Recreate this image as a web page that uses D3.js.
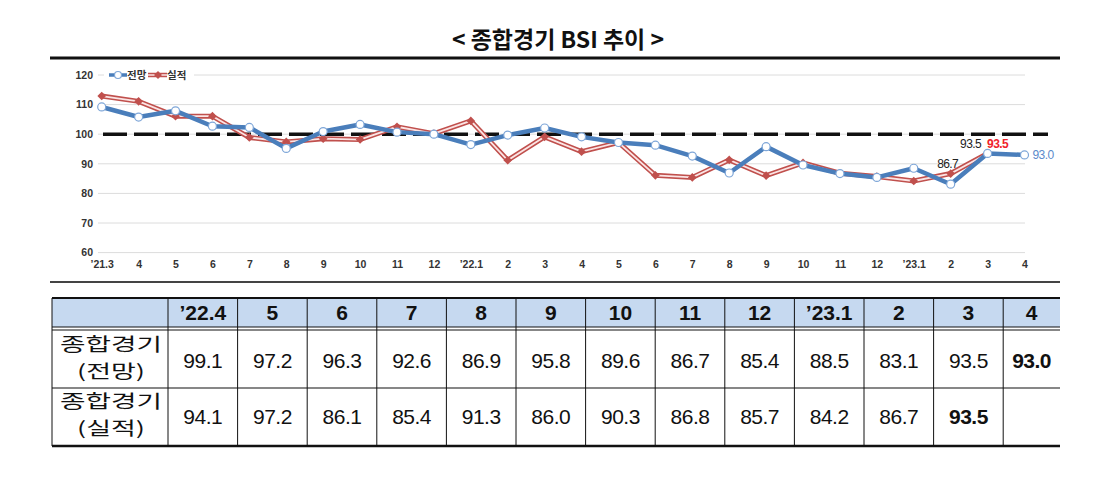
<!DOCTYPE html>
<html>
<head>
<meta charset="utf-8">
<script src="https://cdn.jsdelivr.net/npm/d3@7"></script>
<style>
  body { margin: 0; background: #fff; }
  svg { display: block; }
</style>
</head>
<body>
<div id="chart"></div>
<script>

// --> DATA

var labels = ["\u201921.3", "4", "5", "6", "7", "8", "9", "10", "11", "12",
              "\u201922.1", "2", "3", "4", "5", "6", "7", "8", "9", "10", "11", "12",
              "\u201923.1", "2", "3", "4"];

// 전망 (forecast), '21.3 ~ '23.4
var forecast = [109.2, 105.8, 107.9, 102.7, 102.3, 95.2, 100.9, 103.3, 100.7, 100.0,
                96.5, 99.7, 102.1, 99.1, 97.2, 96.3, 92.6, 86.9, 95.8, 89.6, 86.7, 85.4,
                88.5, 83.1, 93.5, 93.0];

// 실적 (actual), '21.3 ~ '23.3
var actual = [112.9, 111.1, 106.1, 106.1, 98.9, 97.4, 98.5, 98.2, 102.5, 100.2,
              104.5, 91.2, 99.1, 94.1, 97.2, 86.1, 85.4, 91.3, 86.0, 90.3, 86.8, 85.7,
              84.2, 86.7, 93.5];

var yTicks = [60, 70, 80, 90, 100, 110, 120];

var tableCols = ["\u201922.4", "5", "6", "7", "8", "9", "10", "11", "12", "\u201923.1", "2", "3", "4"];
var tableForecast = forecast.slice(13);
var tableActual = actual.slice(13);
var rowLabels = [["종합경기", "(전망)"], ["종합경기", "(실적)"]];

// --> SVG

var width = 1107,
    height = 497;

var blue = "#4a7ebb",
    red = "#c0504d";

var svg = d3.select("#chart").append("svg")
    .attr("width", width)
    .attr("height", height);

// title + rules
svg.append("text")
    .attr("x", 558)
    .attr("y", 48)
    .attr("text-anchor", "middle")
    .style("font-family", "'Noto Sans CJK KR', sans-serif")
    .style("font-weight", "bold")
    .style("font-size", "23px")
    .style("fill", "#111")
    .text("< 종합경기 BSI 추이 >");

svg.append("line")
    .attr("x1", 50).attr("x2", 1060)
    .attr("y1", 58).attr("y2", 58)
    .style("stroke", "#111")
    .style("stroke-width", 3);

svg.append("line")
    .attr("x1", 50).attr("x2", 1060)
    .attr("y1", 282).attr("y2", 282)
    .style("stroke", "#444")
    .style("stroke-width", 2);

// --> SCALES

var x = d3.scalePoint()
    .domain(d3.range(labels.length))
    .range([101.7, 1024.5]);

var y = d3.scaleLinear()
    .domain([60, 120])
    .range([252.6, 75]);

// gridlines
svg.append("g").selectAll("line")
    .data(yTicks)
    .enter().append("line")
    .attr("x1", 98).attr("x2", 1025)
    .attr("y1", function (d) { return y(d); })
    .attr("y2", function (d) { return y(d); })
    .style("stroke", "#dcdcdc")
    .style("stroke-width", 1);

// axes
var yAxis = svg.append("g")
    .attr("transform", "translate(96,0)")
    .call(d3.axisLeft(y).tickValues(yTicks).tickSize(0).tickPadding(3));

var xAxis = svg.append("g")
    .attr("transform", "translate(0," + y(60) + ")")
    .call(d3.axisBottom(x).tickSize(0).tickPadding(8)
        .tickFormat(function (i) { return labels[i]; }));

[yAxis, xAxis].forEach(function (g) {
    g.select(".domain").remove();
    g.selectAll("text")
        .style("font-family", "'Liberation Sans', Arial, sans-serif")
        .style("font-weight", "bold")
        .style("font-size", "10.5px")
        .style("fill", "#333");
});

// 100 baseline
svg.append("line")
    .attr("x1", 103).attr("x2", 1048)
    .attr("y1", y(100)).attr("y2", y(100))
    .style("stroke", "#111")
    .style("stroke-width", 3.5)
    .style("stroke-dasharray", "24,7");

// --> LINES

var line = d3.line()
    .x(function (d, i) { return x(i); })
    .y(function (d) { return y(d); });

svg.append("path")
    .datum(actual)
    .attr("d", line)
    .style("fill", "none")
    .style("stroke", red)
    .style("stroke-width", 5);

svg.append("path")
    .datum(actual)
    .attr("d", line)
    .style("fill", "none")
    .style("stroke", "#fbe4e4")
    .style("stroke-width", 1.8);

svg.append("g").selectAll("path")
    .data(actual)
    .enter().append("path")
    .attr("d", d3.symbol().type(d3.symbolDiamond2).size(48))
    .attr("transform", function (d, i) { return "translate(" + x(i) + "," + y(d) + ")"; })
    .style("fill", red);

svg.append("path")
    .datum(forecast)
    .attr("d", line)
    .style("fill", "none")
    .style("stroke", blue)
    .style("stroke-width", 4.5)
    .style("stroke-linejoin", "round");

svg.append("g").selectAll("circle")
    .data(forecast)
    .enter().append("circle")
    .attr("cx", function (d, i) { return x(i); })
    .attr("cy", function (d) { return y(d); })
    .attr("r", 4)
    .style("fill", "#fff")
    .style("stroke", "#7ea6d8")
    .style("stroke-width", 1.2);

// data labels
var nA = actual.length - 1,
    nF = forecast.length - 1;

var labelFont = function (sel, color) {
    sel.style("font-family", "'Liberation Sans', Arial, sans-serif")
        .style("font-size", "12px")
        .style("letter-spacing", "-0.6px")
        .style("fill", color);
};

svg.append("text")
    .attr("x", x(nA - 1) - 3)
    .attr("y", y(actual[nA - 1]) - 6)
    .attr("text-anchor", "middle")
    .call(labelFont, "#222")
    .text(actual[nA - 1].toFixed(1));

svg.append("text")
    .attr("x", x(nA) - 17)
    .attr("y", y(forecast[nA]) - 5)
    .attr("text-anchor", "middle")
    .call(labelFont, "#222")
    .text(forecast[nA].toFixed(1));

svg.append("text")
    .attr("x", x(nA) + 10)
    .attr("y", y(actual[nA]) - 5)
    .attr("text-anchor", "middle")
    .call(labelFont, "#f0222a")
    .style("font-weight", "bold")
    .text(actual[nA].toFixed(1));

svg.append("text")
    .attr("x", x(nF) + 8)
    .attr("y", y(forecast[nF]) + 4)
    .call(labelFont, "#5b8acb")
    .text(forecast[nF].toFixed(1));

// legend
var legend = svg.append("g");

legend.append("rect")
    .attr("x", 104).attr("y", 66)
    .attr("width", 90).attr("height", 16)
    .style("fill", "#fff");

legend.append("line")
    .attr("x1", 109).attr("x2", 127)
    .attr("y1", y(120)).attr("y2", y(120))
    .style("stroke", blue).style("stroke-width", 3.5);

legend.append("circle")
    .attr("cx", 118).attr("cy", y(120)).attr("r", 3.5)
    .style("fill", "#fff").style("stroke", "#7ea6d8").style("stroke-width", 1.2);

legend.append("line")
    .attr("x1", 148).attr("x2", 167)
    .attr("y1", y(120)).attr("y2", y(120))
    .style("stroke", red).style("stroke-width", 4.5);

legend.append("line")
    .attr("x1", 148).attr("x2", 167)
    .attr("y1", y(120)).attr("y2", y(120))
    .style("stroke", "#fbe4e4").style("stroke-width", 1.5);

legend.append("path")
    .attr("d", d3.symbol().type(d3.symbolDiamond2).size(40))
    .attr("transform", "translate(158," + y(120) + ")")
    .style("fill", red);

legend.selectAll("text.lg")
    .data([["전망", 127], ["실적", 167]])
    .enter().append("text")
    .attr("x", function (d) { return d[1]; })
    .attr("y", y(120) + 4)
    .style("font-family", "'Noto Sans CJK KR', sans-serif")
    .style("font-weight", "bold")
    .style("font-size", "10.5px")
    .style("fill", "#333")
    .text(function (d) { return d[0]; });

// --> TABLE

var tLeft = 52,
    tFirst = 168,
    tRight = 1060,
    colW = 69.6,
    tTop = 298,
    hBottom = 327,
    r1Top = 330,
    r2Top = 388,
    tBottom = 446;

var colEdges = [tFirst];
tableCols.forEach(function (c, i) {
    colEdges.push(i < tableCols.length - 1 ? tFirst + colW * (i + 1) : tRight);
});

var colMid = function (i) { return (colEdges[i] + colEdges[i + 1]) / 2; };

var table = svg.append("g");

table.append("rect")
    .attr("x", tLeft).attr("y", tTop)
    .attr("width", tRight - tLeft).attr("height", hBottom - tTop)
    .style("fill", "#c6d9f0");

// horizontal rules
[[tTop, 2], [hBottom, 1.2], [r1Top, 1.2], [r2Top, 1.2], [tBottom, 2.6]].forEach(function (h) {
    table.append("line")
        .attr("x1", tLeft).attr("x2", tRight)
        .attr("y1", h[0]).attr("y2", h[0])
        .style("stroke", "#111")
        .style("stroke-width", h[1]);
});

// vertical rules
table.selectAll("line.v")
    .data([tLeft].concat(colEdges.slice(0, -1)))
    .enter().append("line")
    .attr("x1", function (d) { return d; })
    .attr("x2", function (d) { return d; })
    .attr("y1", tTop).attr("y2", tBottom)
    .style("stroke", "#111")
    .style("stroke-width", 1);

table.selectAll("text.head")
    .data(tableCols)
    .enter().append("text")
    .attr("x", function (d, i) { return colMid(i); })
    .attr("y", 320)
    .attr("text-anchor", "middle")
    .style("font-family", "'Liberation Sans', Arial, sans-serif")
    .style("font-weight", "bold")
    .style("font-size", "21px")
    .style("fill", "#111")
    .text(function (d) { return d; });

[[tableForecast, 368], [tableActual, 424]].forEach(function (row) {
    var vals = row[0];
    table.selectAll(null)
        .data(vals)
        .enter().append("text")
        .attr("x", function (d, i) { return colMid(i); })
        .attr("y", row[1])
        .attr("text-anchor", "middle")
        .style("font-family", "'Liberation Sans', Arial, sans-serif")
        .style("font-size", "21px")
        .style("font-weight", function (d, i) { return i === vals.length - 1 ? "bold" : "normal"; })
        .style("letter-spacing", "-0.5px")
        .style("fill", "#111")
        .text(function (d) { return d.toFixed(1); });
});

rowLabels.forEach(function (lab, r) {
    var base = r === 0 ? 351 : 408;
    lab.forEach(function (t, k) {
        table.append("text")
            .attr("x", (tLeft + tFirst) / 2 + 1)
            .attr("y", base + k * 26.5)
            .attr("text-anchor", "middle")
            .attr("textLength", k === 0 ? 102 : 68)
            .attr("lengthAdjust", "spacingAndGlyphs")
            .style("font-family", "'Noto Sans CJK KR', sans-serif")
            .style("font-size", "18px")
            .style("fill", "#111")
            .text(t);
    });
});

</script>
</body>
</html>
